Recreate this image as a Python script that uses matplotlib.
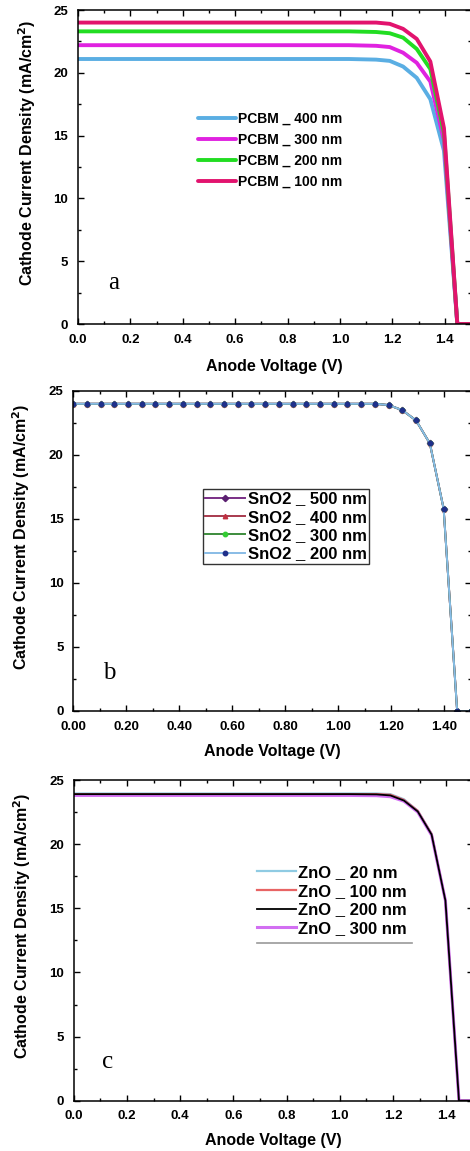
import matplotlib
matplotlib.use("Agg")
import matplotlib.pyplot as plt
from matplotlib.ticker import MultipleLocator, FormatStrFormatter

plt.rcParams['font.family'] = ['Liberation Sans', 'DejaVu Sans']
plt.rcParams['font.weight'] = 'bold'
plt.rcParams['axes.labelweight'] = 'bold'

# --- data ---
# sparse voltage grid for the plain line panels (a, c)
v_line = [0.0, 0.517, 1.034, 1.138, 1.190, 1.241, 1.293, 1.345, 1.397, 1.448, 1.500]

# panel a : PCBM thickness
pcbm_labels = ["PCBM _ 400 nm", "PCBM _ 300 nm", "PCBM _ 200 nm", "PCBM _ 100 nm"]
pcbm_400 = [21.1, 21.1, 21.1, 21.05, 20.95, 20.5, 19.6, 17.9, 13.8, 0.0, 0.0]
pcbm_300 = [22.2, 22.2, 22.2, 22.15, 22.05, 21.6, 20.8, 19.3, 14.6, 0.0, 0.0]
pcbm_200 = [23.3, 23.3, 23.3, 23.25, 23.15, 22.8, 21.9, 20.3, 15.2, 0.0, 0.0]
pcbm_100 = [24.0, 24.0, 24.0, 24.0, 23.9, 23.5, 22.7, 20.9, 15.6, 0.0, 0.0]

# panel b : SnO2 thickness (marker grid)
v_b = [0.000, 0.052, 0.103, 0.155, 0.207, 0.259, 0.310, 0.362, 0.414, 0.466,
       0.517, 0.569, 0.621, 0.672, 0.724, 0.776, 0.828, 0.879, 0.931, 0.983,
       1.034, 1.086, 1.138, 1.190, 1.241, 1.293, 1.345, 1.397, 1.448, 1.500]
sno2_labels = ["SnO2 _ 500 nm", "SnO2 _ 400 nm", "SnO2 _ 300 nm", "SnO2 _ 200 nm"]
# the four SnO2 curves lie on top of each other in the figure
sno2_j = [24.0, 24.0, 24.0, 24.0, 24.0, 24.0, 24.0, 24.0, 24.0, 24.0,
          24.0, 24.0, 24.0, 24.0, 24.0, 24.0, 24.0, 24.0, 24.0, 24.0,
          24.0, 24.0, 24.0, 23.9, 23.5, 22.7, 20.9, 15.8, 0.0, 0.0]
sno2_500 = sno2_j
sno2_400 = sno2_j
sno2_300 = sno2_j
sno2_200 = sno2_j

# panel c : ZnO thickness
zno_labels = ["ZnO _ 20 nm", "ZnO _ 100 nm", "ZnO _ 200 nm", "ZnO _ 300 nm"]
zno_20 = [23.95, 23.95, 23.95, 23.95, 23.9, 23.5, 22.6, 20.8, 15.6, 0.0, 0.0]
zno_100 = [23.9, 23.9, 23.9, 23.9, 23.85, 23.45, 22.6, 20.8, 15.6, 0.0, 0.0]
zno_200 = [23.9, 23.9, 23.9, 23.88, 23.8, 23.4, 22.55, 20.75, 15.6, 0.0, 0.0]
zno_300 = [23.8, 23.8, 23.8, 23.78, 23.7, 23.35, 22.5, 20.7, 15.6, 0.0, 0.0]

YLABEL = "Cathode Current Density (mA/cm$^\\mathbf{2}$)"
XLABEL = "Anode Voltage (V)"


def style_axes(ax, xfmt, ylab_y=0.545, xlab_y=-0.11):
    ax.set_xlim(0, 1.5)
    ax.set_ylim(0, 25)
    ax.xaxis.set_major_locator(MultipleLocator(0.2))
    ax.xaxis.set_minor_locator(MultipleLocator(0.1))
    ax.yaxis.set_major_locator(MultipleLocator(5))
    ax.yaxis.set_minor_locator(MultipleLocator(2.5))
    ax.xaxis.set_major_formatter(FormatStrFormatter(xfmt))
    ax.yaxis.set_major_formatter(FormatStrFormatter('%d'))
    ax.tick_params(which='both', direction='in', top=True, right=True,
                   width=1, labelsize=9.5, pad=7)
    ax.tick_params(which='major', length=4.5)
    ax.tick_params(which='minor', length=2.5)
    for s in ax.spines.values():
        s.set_linewidth(1.1)
    ax.set_ylabel(YLABEL, fontsize=11.5)
    ax.set_xlabel(XLABEL, fontsize=11.5)
    ax.yaxis.set_label_coords(-0.103, ylab_y)
    ax.xaxis.set_label_coords(0.5, xlab_y)


fig = plt.figure(figsize=(4.7, 11.51), dpi=100)

# ---------------- a ----------------
ax1 = fig.add_axes([0.166, 0.7185, 0.836, 0.2728])
cols_a = ['#5aaee3', '#e022e0', '#22dd22', '#e2136e']
for y, c, lab in zip([pcbm_400, pcbm_300, pcbm_200, pcbm_100], cols_a, pcbm_labels):
    ax1.plot(v_line, y, color=c, lw=2.8, label=lab, solid_capstyle='round')
style_axes(ax1, '%.1f', xlab_y=-0.112)
ax1.legend(loc='center', bbox_to_anchor=(0.488, 0.554), frameon=False,
           fontsize=10, handlelength=2.8, handletextpad=0.1, labelspacing=0.5)
ax1.text(0.09, 0.13, "a", transform=ax1.transAxes, family='Liberation Serif',
         fontweight='normal', fontsize=18, ha='center', va='center')

# ---------------- b ----------------
ax2 = fig.add_axes([0.156, 0.3823, 0.846, 0.278])
b_lines = ['#7a2f86', '#a83a4e', '#3c8c3c', '#88bce6']
b_marks = ['D', '^', 'o', 'o']
b_mcols = ['#5a1f70', '#c03040', '#33cc33', '#1f2f8a']
for y, c, m, mc, lab in zip([sno2_500, sno2_400, sno2_300, sno2_200],
                            b_lines, b_marks, b_mcols, sno2_labels):
    ax2.plot(v_b, y, color=c, lw=1.4, marker=m, markersize=3.2,
             markerfacecolor=mc, markeredgecolor=mc, label=lab)
style_axes(ax2, '%.2f', xlab_y=-0.104)
leg = ax2.legend(loc='center', bbox_to_anchor=(0.535, 0.577), frameon=True,
                 fancybox=False, fontsize=12, handlelength=2.4, handletextpad=0.15,
                 labelspacing=0.2, borderpad=0.15, borderaxespad=0, markerscale=1.0)
leg.get_frame().set_edgecolor('black')
leg.get_frame().set_linewidth(1.0)
ax2.text(0.09, 0.12, "b", transform=ax2.transAxes, family='Liberation Serif',
         fontweight='normal', fontsize=18, ha='center', va='center')

# ---------------- c ----------------
ax3 = fig.add_axes([0.157, 0.0437, 0.849, 0.2786])
l20, = ax3.plot(v_line, zno_20, color='#8fcbe3', lw=1.6, label=zno_labels[0])
l100, = ax3.plot(v_line, zno_100, color='#e86464', lw=1.6, label=zno_labels[1])
l300, = ax3.plot(v_line, zno_300, color='#d26ff2', lw=2.2, label=zno_labels[3])
l200, = ax3.plot(v_line, zno_200, color='black', lw=1.3, label=zno_labels[2])
style_axes(ax3, '%.1f', xlab_y=-0.1)
ax3.legend(handles=[l20, l100, l200, l300], loc='center', bbox_to_anchor=(0.647, 0.624),
           frameon=False, fontsize=12, handlelength=2.3, handletextpad=0.15,
           labelspacing=0.22)
ax3.plot([0.459, 0.847], [0.493, 0.493], transform=ax3.transAxes, color='#999999',
         lw=1.2, clip_on=False)
ax3.text(0.085, 0.12, "c", transform=ax3.transAxes, family='Liberation Serif',
         fontweight='normal', fontsize=18, ha='center', va='center')

plt.savefig("out.png", dpi=100)
plt.close()
